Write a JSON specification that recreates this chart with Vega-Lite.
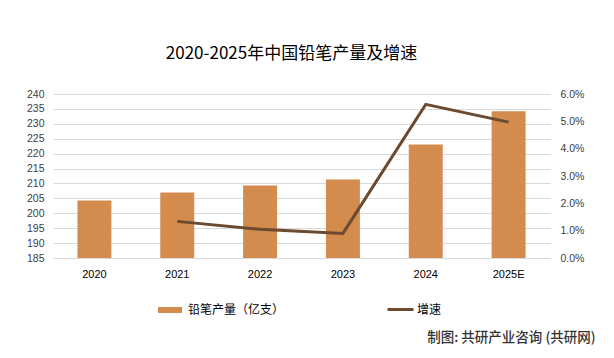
{
  "$schema": "https://vega.github.io/schema/vega-lite/v6.json",
  "width": 497,
  "height": 164,
  "autosize": {"type": "none"},
  "padding": {"left": 53, "top": 94, "right": 64, "bottom": 100},
  "background": "white",
  "title": {
    "text": "2020-2025年中国铅笔产量及增速",
    "font": "Noto Sans CJK SC",
    "fontSize": 17,
    "fontWeight": "normal",
    "color": "#000000",
    "anchor": "middle",
    "dx": -10,
    "offset": 26
  },
  "data": {
    "values": [
      {"year": "2020", "output": 204.3, "growth": null},
      {"year": "2021", "output": 207.0, "growth": 0.0134},
      {"year": "2022", "output": 209.3, "growth": 0.0105},
      {"year": "2023", "output": 211.3, "growth": 0.009},
      {"year": "2024", "output": 223.1, "growth": 0.0562},
      {"year": "2025E", "output": 234.2, "growth": 0.0497}
    ]
  },
  "encoding": {
    "x": {
      "field": "year",
      "type": "nominal",
      "sort": null,
      "scale": {"paddingInner": 0.59, "paddingOuter": 0.295},
      "axis": {
        "title": "制图: 共研产业咨询 (共研网)",
        "titleFont": "Noto Sans CJK SC",
        "titleFontSize": 13.5,
        "titleFontWeight": 500,
        "titleColor": "#333333",
        "titleX": 542,
        "titleY": 79,
        "titleAlign": "right",
        "titleBaseline": "middle",
        "labelAngle": 0,
        "labelFont": "Liberation Sans",
        "labelFontSize": 11,
        "labelColor": "#000000",
        "labelPadding": 10,
        "ticks": false,
        "domain": true,
        "domainColor": "#d9d9d9",
        "grid": false,
        "zindex": 1
      }
    }
  },
  "layer": [
    {
      "mark": {"type": "bar", "color": "#D38B4E", "clip": true},
      "encoding": {
        "y": {
          "field": "output",
          "type": "quantitative",
          "scale": {"domain": [185, 240], "nice": false, "zero": false},
          "axis": {
            "title": null,
            "values": [185, 190, 195, 200, 205, 210, 215, 220, 225, 230, 235, 240],
            "grid": true,
            "gridColor": "#d9d9d9",
            "domain": false,
            "ticks": false,
            "labelPadding": 9,
            "labelFont": "Liberation Sans",
            "labelFontSize": 10.5,
            "labelColor": "#404040"
          }
        },
        "color": {
          "datum": "铅笔产量（亿支）",
          "scale": {"range": ["#D38B4E"]},
          "legend": {
            "orient": "none",
            "legendX": 102,
            "legendY": 201,
            "title": null,
            "symbolType": "stroke",
            "symbolSize": 576,
            "symbolStrokeWidth": 6,
            "symbolStrokeColor": "#D38B4E",
            "labelFont": "Noto Sans CJK SC",
            "labelFontSize": 12,
            "labelColor": "#000000",
            "labelOffset": 3
          }
        }
      }
    },
    {
      "mark": {"type": "line", "strokeWidth": 3, "color": "#6B4A30"},
      "encoding": {
        "y": {
          "field": "growth",
          "type": "quantitative",
          "scale": {"domain": [0, 0.06], "nice": false},
          "axis": {
            "title": null,
            "orient": "right",
            "format": ".1%",
            "values": [0, 0.01, 0.02, 0.03, 0.04, 0.05, 0.06],
            "grid": false,
            "domain": false,
            "ticks": false,
            "labelPadding": 10,
            "labelFont": "Liberation Sans",
            "labelFontSize": 10.5,
            "labelColor": "#404040"
          }
        },
        "color": {
          "datum": "增速",
          "scale": {"range": ["#6B4A30"]},
          "legend": {
            "orient": "none",
            "legendX": 333,
            "legendY": 201,
            "title": null,
            "symbolType": "stroke",
            "symbolSize": 676,
            "symbolStrokeWidth": 3,
            "labelFont": "Noto Sans CJK SC",
            "labelFontSize": 12,
            "labelColor": "#000000",
            "labelOffset": 2
          }
        }
      }
    }
  ],
  "resolve": {
    "scale": {"y": "independent", "color": "independent"},
    "legend": {"color": "independent"}
  },
  "config": {"view": {"stroke": null}}
}
